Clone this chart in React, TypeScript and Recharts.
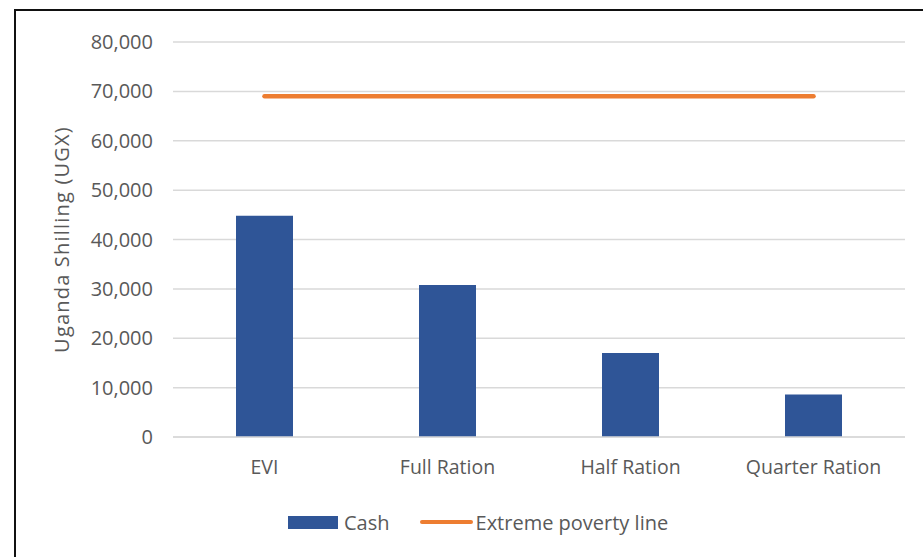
import React from 'react';
import { ComposedChart, Bar, Line, XAxis, YAxis, CartesianGrid, Legend, Label } from 'recharts';

const categories = ['EVI', 'Full Ration', 'Half Ration', 'Quarter Ration'];
const cashValues = [44800, 30800, 17000, 8600];
const povertyLine = [69000, 69000, 69000, 69000];
const yTicks = [0, 10000, 20000, 30000, 40000, 50000, 60000, 70000, 80000];

const BLUE = '#2F5597';
const ORANGE = '#ED7D31';
const TEXT = '#595959';
const GRID = '#D9D9D9';
const FONT = '"Open Sans", sans-serif';

const data = categories.map((name, i) => ({
  name,
  cash: cashValues[i],
  poverty: povertyLine[i],
}));

const formatTick = (v: number) => v.toLocaleString('en-US');

const ChartLegend = () => (
  <div
    style={{
      display: 'flex',
      alignItems: 'center',
      paddingLeft: 288,
      height: 30,
      fontFamily: FONT,
      fontSize: 20,
      color: TEXT,
    }}
  >
    <span style={{ width: 50, height: 13, background: BLUE, display: 'inline-block' }} />
    <span style={{ marginLeft: 6 }}>Cash</span>
    <span
      style={{
        width: 53,
        height: 4,
        background: ORANGE,
        borderRadius: 2,
        display: 'inline-block',
        marginLeft: 30,
      }}
    />
    <span style={{ marginLeft: 3 }}>Extreme poverty line</span>
  </div>
);

const App: React.FC = () => {
  return (
    <div style={{ position: 'fixed', left: 0, top: 0, width: 923, height: 557, background: '#fff' }}>
      <div
        style={{
          position: 'absolute',
          left: 14,
          top: 9,
          right: 0,
          bottom: 0,
          borderLeft: '2px solid #111',
          borderTop: '2px solid #111',
        }}
      />
      <ComposedChart
        width={923}
        height={557}
        data={data}
        margin={{ top: 42, right: 18, left: 0, bottom: 60 }}
        style={{ position: 'absolute', left: 0, top: 0 }}
      >
        <CartesianGrid vertical={false} stroke={GRID} strokeWidth={1.5} />
        <XAxis
          dataKey="name"
          height={60}
          tickSize={0}
          tickMargin={23}
          axisLine={{ stroke: GRID, strokeWidth: 1.5 }}
          tick={{ fill: TEXT, fontSize: 19.5, fontFamily: FONT }}
        />
        <YAxis
          width={173}
          domain={[0, 80000]}
          ticks={yTicks}
          tickFormatter={formatTick}
          tickSize={0}
          tickMargin={20}
          axisLine={false}
          tick={{ fill: TEXT, fontSize: 20, fontFamily: FONT }}
        >
          <Label
            value="Uganda Shilling (UGX)"
            angle={-90}
            position="insideLeft"
            offset={62}
            style={{ textAnchor: 'middle', fill: TEXT, fontSize: 20, fontFamily: FONT, letterSpacing: 1.2 }}
          />
        </YAxis>
        <Bar dataKey="cash" name="Cash" fill={BLUE} barSize={57} isAnimationActive={false} />
        <Line
          dataKey="poverty"
          name="Extreme poverty line"
          type="linear"
          stroke={ORANGE}
          strokeWidth={4.5}
          strokeLinecap="round"
          dot={false}
          activeDot={false}
          isAnimationActive={false}
        />
        <Legend
          verticalAlign="middle"
          align="center"
          layout="horizontal"
          content={() => <ChartLegend />}
          wrapperStyle={{ top: 507, left: 0, width: 923, height: 30 }}
        />
      </ComposedChart>
    </div>
  );
};

export default App;
